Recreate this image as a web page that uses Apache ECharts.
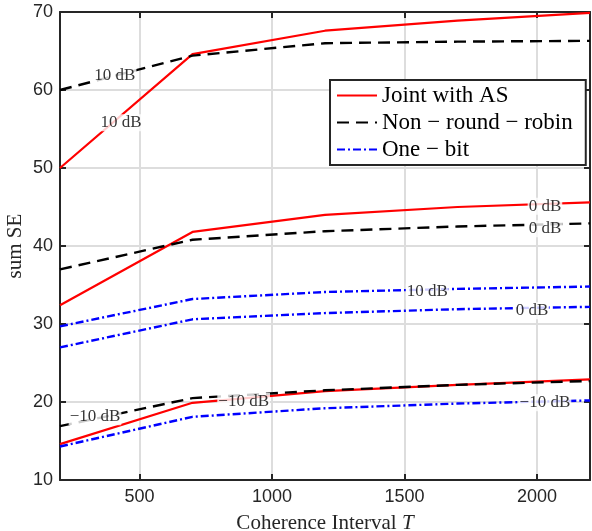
<!DOCTYPE html>
<html>
<head>
<meta charset="utf-8">
<script src="https://cdn.jsdelivr.net/npm/echarts@6/dist/echarts.min.js"></script>
<style>html,body{margin:0;padding:0;background:#fff}#c{width:592px;height:531px}</style>
</head>
<body>
<div id="c"></div>
<script>
var xs = [200, 700, 1200, 1700, 2200];
var joint10 = [50.0, 64.6, 67.6, 68.9, 69.9];
var joint0 = [32.4, 41.8, 44.0, 45.0, 45.6];
var jointM10 = [14.6, 19.9, 21.4, 22.2, 22.9];
var nrr10 = [60.0, 64.4, 66.0, 66.2, 66.3];
var nrr0 = [37.0, 40.8, 41.9, 42.5, 42.9];
var nrrM10 = [16.9, 20.5, 21.5, 22.2, 22.7];
var ob10 = [29.7, 33.2, 34.1, 34.5, 34.8];
var ob0 = [27.0, 30.6, 31.4, 31.9, 32.2];
var obM10 = [14.3, 18.1, 19.2, 19.8, 20.2];

var seriesNames = ['Joint with AS', 'Non − round − robin', 'One − bit'];

var labelX = [407, 430, 2030, 2030, 1586, 1981, 2030, 893, 332];
var labelY = [61.8, 55.8, 45.1, 42.2, 34.1, 31.7, 19.9, 20.1, 18.1];
var labelText = ['10 dB', '10 dB', '0 dB', '0 dB', '10 dB', '0 dB', '−10 dB', '−10 dB', '−10 dB'];

function pairs(ys) { return xs.map(function (x, i) { return [x, ys[i]]; }); }

var redStyle = { color: '#ff0000', width: 2.2, type: 'solid' };
var blackStyle = { color: '#000000', width: 2.4, type: [12, 7] };
var blueStyle = { color: '#0000ff', width: 2.4, type: [8, 3, 2, 3] };

function line(name, ys, style) {
  return { type: 'line', name: name, data: pairs(ys), symbol: 'none', showSymbol: false,
    lineStyle: style, itemStyle: { color: style.color }, animation: false, z: 3 };
}

var series = [
  line(seriesNames[0], joint10, redStyle),
  line(seriesNames[0], joint0, redStyle),
  line(seriesNames[0], jointM10, redStyle),
  line(seriesNames[1], nrr10, blackStyle),
  line(seriesNames[1], nrr0, blackStyle),
  line(seriesNames[1], nrrM10, blackStyle),
  line(seriesNames[2], ob10, blueStyle),
  line(seriesNames[2], ob0, blueStyle),
  line(seriesNames[2], obM10, blueStyle),
  {
    type: 'scatter', name: 'labels', z: 10, animation: false,
    symbolSize: 1, itemStyle: { color: 'rgba(0,0,0,0)' },
    data: labelX.map(function (x, i) { return { value: [x, labelY[i]], name: labelText[i] }; }),
    label: { show: true, position: 'inside', formatter: function (p) { return p.name; },
      backgroundColor: '#ffffff', color: '#000', fontFamily: 'Liberation Serif', fontSize: 17, padding: [0, 1] }
  }
];

var axisLineStyle = { color: '#262626', width: 2 };
var plain = function (v) { return String(v); };
var chart = echarts.init(document.getElementById('c'));
chart.setOption({
  backgroundColor: '#ffffff',
  grid: { left: 60, right: 2, top: 12, bottom: 51, containLabel: false, outerBoundsMode: 'none' },
  xAxis: [{
    type: 'value', min: 200, max: 2200, splitNumber: 4,
    name: 'Coherence Interval {i|T}', nameLocation: 'middle', nameGap: 33,
    nameTextStyle: { fontFamily: 'Liberation Serif', fontSize: 21, color: '#262626',
      rich: { i: { fontStyle: 'italic', fontFamily: 'Liberation Serif', fontSize: 21, color: '#262626' } } },
    axisLine: { show: true, lineStyle: axisLineStyle },
    axisTick: { show: true, inside: true, length: 6, lineStyle: axisLineStyle },
    axisLabel: { showMinLabel: false, showMaxLabel: false, formatter: plain, fontFamily: 'Liberation Sans', fontSize: 18, color: '#262626', margin: 8 },
    splitLine: { show: true, lineStyle: { color: '#dddddd', width: 2 } }
  }, {
    type: 'value', min: 200, max: 2200, splitNumber: 4, position: 'top',
    axisLine: { show: true, lineStyle: axisLineStyle },
    axisTick: { show: true, inside: true, length: 6, lineStyle: axisLineStyle },
    axisLabel: { show: false }, splitLine: { show: false }
  }],
  yAxis: [{
    type: 'value', min: 10, max: 70, interval: 10,
    name: 'sum SE', nameLocation: 'middle', nameGap: 34, nameMoveOverlap: false,
    nameTextStyle: { fontFamily: 'Liberation Serif', fontSize: 21, color: '#262626' },
    axisLine: { show: true, lineStyle: axisLineStyle },
    axisTick: { show: true, inside: true, length: 6, lineStyle: axisLineStyle },
    axisLabel: { formatter: plain, fontFamily: 'Liberation Sans', fontSize: 18, color: '#262626', margin: 7 },
    splitLine: { show: true, lineStyle: { color: '#dddddd', width: 2 } }
  }, {
    type: 'value', min: 10, max: 70, interval: 10, position: 'right',
    axisLine: { show: true, lineStyle: axisLineStyle },
    axisTick: { show: true, inside: true, length: 6, lineStyle: axisLineStyle },
    axisLabel: { show: false }, splitLine: { show: false }
  }],
  legend: {
    data: seriesNames, orient: 'vertical', left: 330, top: 80,
    backgroundColor: '#ffffff', borderColor: '#262626', borderWidth: 2,
    padding: [4, 13, 4, 6], itemWidth: 40, itemHeight: 14, itemGap: 4,
    selectedMode: false,
    itemStyle: { opacity: 0 },
    textStyle: { fontFamily: 'Liberation Serif', fontSize: 23, color: '#000' }
  },
  series: series
});
</script>
</body>
</html>
